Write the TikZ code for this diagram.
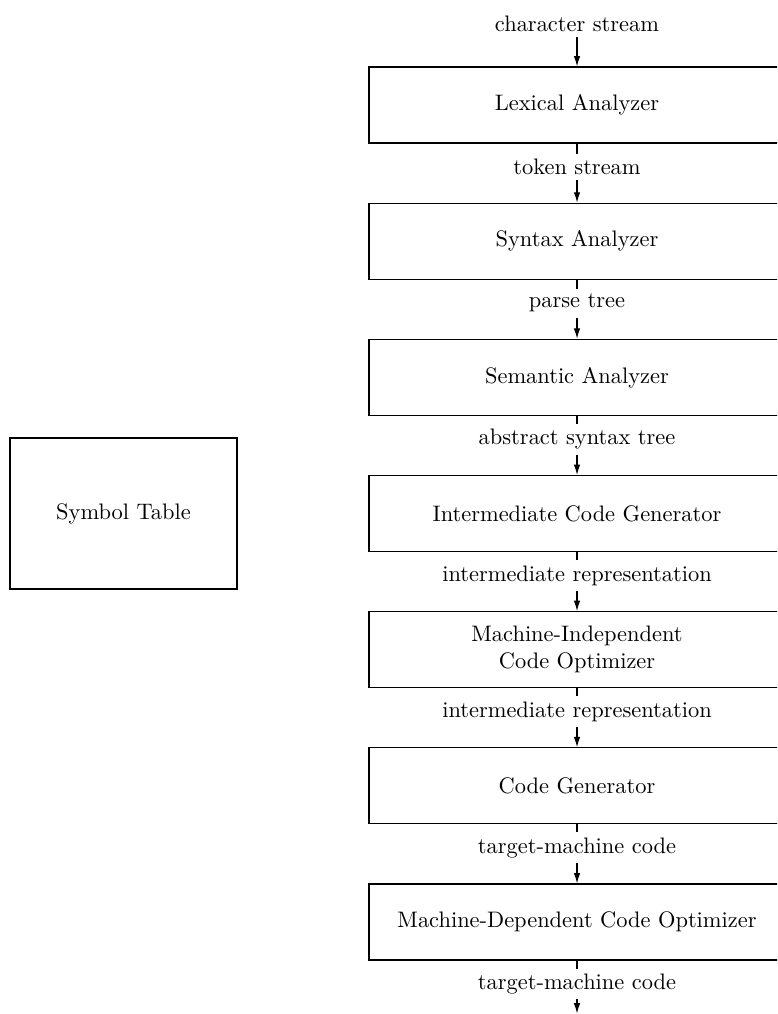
\documentclass[tikz,border=0pt]{standalone}
\usetikzlibrary{arrows.meta}
\begin{document}
\begin{tikzpicture}[x=0.446pt,y=-0.446pt,
  phase/.style={draw,line width=0.55pt,minimum width=416*0.446pt,minimum height=76*0.446pt,align=center,inner sep=0pt},
  symtab/.style={draw,line width=0.55pt,minimum width=227*0.446pt,minimum height=151*0.446pt,inner sep=0pt},
  flow/.style={inner xsep=1pt,inner ysep=2.2pt},
  conn/.style={line width=0.5pt},
  arr/.style={conn,-{Latex[length=4.6pt,width=2.9pt]}}]
\clip (0,0) rectangle (777,1014);

% compiler phases
\node[phase] (lex) at (577,105)   {Lexical Analyzer};
\node[phase] (syn) at (577,241.2) {Syntax Analyzer};
\node[phase] (sem) at (577,377.3) {Semantic Analyzer};
\node[phase] (icg) at (577,513.5) {Intermediate Code Generator};
\node[phase] (mio) at (577,649.6) {Machine-Independent\\Code Optimizer};
\node[phase] (cg)  at (577,785.8) {Code Generator};
\node[phase] (mdo) at (577,922)   {Machine-Dependent Code Optimizer};

% symbol table shared by all phases
\node[symtab] (st) at (123.5,513.5) {Symbol Table};

% intermediate forms passed between phases
\node[flow] (src) at (577,24)    {character stream};
\node[flow] (l1)  at (577,167)   {token stream};
\node[flow] (l2)  at (577,303.2) {parse tree};
\node[flow] (l3)  at (577,439.3) {abstract syntax tree};
\node[flow] (l4)  at (577,575.5) {intermediate representation};
\node[flow] (l5)  at (577,711.6) {intermediate representation};
\node[flow] (l6)  at (577,847.8) {target-machine code};
\node[flow] (l7)  at (577,984)   {target-machine code};
\coordinate (out) at (577,1013.5);

\draw[arr]  (src.south) -- (lex.north);
\draw[conn] (lex.south) -- (l1.north);
\draw[arr]  (l1.south)  -- (syn.north);
\draw[conn] (syn.south) -- (l2.north);
\draw[arr]  (l2.south)  -- (sem.north);
\draw[conn] (sem.south) -- (l3.north);
\draw[arr]  (l3.south)  -- (icg.north);
\draw[conn] (icg.south) -- (l4.north);
\draw[arr]  (l4.south)  -- (mio.north);
\draw[conn] (mio.south) -- (l5.north);
\draw[arr]  (l5.south)  -- (cg.north);
\draw[conn] (cg.south)  -- (l6.north);
\draw[arr]  (l6.south)  -- (mdo.north);
\draw[conn] (mdo.south) -- (l7.north);
\draw[arr]  (l7.south)  -- (out);
\end{tikzpicture}
\end{document}
